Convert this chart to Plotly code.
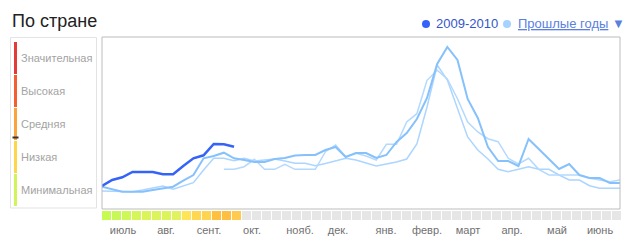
import plotly.graph_objects as go

# ---------------- data ----------------
weeks = list(range(52))
season_2009_2010 = [23, 29, 31.7, 37, 37, 37, 34.7, 34.7, 43, 50.7, 53.7, 65, 64.7, 62.3]
past_a = [22.3, 20, 17.3, 17.3, 17.3, 19, 20.3, 22.3, 28.3, 34, 50.7, 53, 56.3, 50.7,
          49, 47, 47, 50, 51, 53.5, 54, 54, 59, 62, 52, 56, 56, 51, 54, 67,
          76, 90, 111, 145, 162, 149, 110, 91, 62, 48, 48, 43, 70, 60, 51, 40,
          45, 34, 31, 31, 26, 26]
past_b = [18, 18, 17.7, 17.3, 19, 21, 23, 19.7, 23, 26.3, 39, 50.7, 50.7, 48.3,
          50.7, 48, 49, 50, 48, 45.7, 45.7, 43.3, 45.5, 48, 50.7, 49, 46, 43, 45, 47,
          50, 65, 102, 144, 129, 101, 72, 59, 50, 39.7, 37.3, 39.7, 42.3, 39.7, 39.7, 34,
          29, 29, 23.3, 20.7, 20.7, 20.7]
past_c = [None] * 12 + [39.7, 39.7, 42.3, 49.7, 39.7, 39.7, 44.7, 39.7, 39.7, 39.7,
          57.3, 64, 52.3, 55.7, 53, 49, 64.7, 64.7, 87, 95.3, 128.7, 138.7, 130, 110.3,
          87, 77, 70.3, 67.3, 50.7, 45, 50.7, 39.7, 34, 34, 34, 34, 30.7, 29, 27.3, 29]
week_levels_colors = ["#c6fb52", "#c8f858", "#cef758", "#d6f55a", "#daf45a", "#dcf45c",
                      "#dcf45c", "#e0f260", "#ffe45a", "#ffd852", "#ffd450", "#ffc040",
                      "#ffbf42", "#ffca50"] + ["#e6e6e6"] * 38
month_labels = ["июль", "авг.", "сент.", "окт.", "нояб.", "дек.", "янв.", "февр.",
                "март", "апр.", "май", "июнь"]
month_pos = [2.1, 6.4, 10.7, 15.0, 19.8, 23.6, 28.4, 32.5, 36.6, 41.0, 45.5, 49.8]
level_labels = ["Значительная", "Высокая", "Средняя", "Низкая", "Минимальная"]
level_colors = ["#e63a3a", "#f45e30", "#fba33c", "#fdd64c", "#cff55a"]

W, H = 641, 245
def px(x):
    return x / W
def py(y):
    return 1 - y / H

FONT = "Liberation Sans, Arial, sans-serif"

fig = go.Figure()

fig.add_trace(go.Scatter(x=weeks, y=past_b, mode="lines",
                         line=dict(color="#acd5ff", width=1.5), hoverinfo="skip"))
fig.add_trace(go.Scatter(x=weeks, y=past_c, mode="lines",
                         line=dict(color="#b4d9ff", width=1.5), hoverinfo="skip"))
fig.add_trace(go.Scatter(x=weeks, y=past_a, mode="lines",
                         line=dict(color="#86c1fc", width=2), hoverinfo="skip"))
fig.add_trace(go.Scatter(x=weeks[:len(season_2009_2010)], y=season_2009_2010, mode="lines",
                         line=dict(color="#3563fa", width=2.5), hoverinfo="skip"))

fig.add_trace(go.Bar(x=weeks, y=[1] * 52, width=0.9, offset=0,
                     marker=dict(color=week_levels_colors, line=dict(width=0)),
                     xaxis="x2", yaxis="y2", hoverinfo="skip"))

shapes = []
# plot box
shapes.append(dict(type="rect", xref="paper", yref="paper",
                   x0=px(102), x1=px(620), y0=py(209), y1=py(37),
                   line=dict(color="#bcbcbc", width=1), fillcolor="rgba(0,0,0,0)", layer="above"))
# legend box
shapes.append(dict(type="rect", xref="paper", yref="paper",
                   x0=px(10.5), x1=px(96.5), y0=py(208), y1=py(37.5),
                   line=dict(color="#e3e3e3", width=1), fillcolor="rgba(0,0,0,0)"))
annotations = []
seg_top = 42
seg_h = 33
for k, (lab, col) in enumerate(zip(level_labels, level_colors)):
    y0 = seg_top + k * seg_h
    shapes.append(dict(type="rect", xref="paper", yref="paper",
                       x0=px(14), x1=px(17), y0=py(y0 + seg_h - 1), y1=py(y0),
                       line=dict(width=0), fillcolor=col))
    annotations.append(dict(x=px(19), y=py(y0 + 15.5), xref="paper", yref="paper",
                            text=lab, showarrow=False, xanchor="left", yanchor="middle",
                            font=dict(family=FONT, size=11, color="#a3a3a3")))
# current level marker
shapes.append(dict(type="rect", xref="paper", yref="paper",
                   x0=px(12.5), x1=px(18.5), y0=py(138.5), y1=py(136.5),
                   line=dict(width=0), fillcolor="#333333"))
# legend dots
shapes.append(dict(type="circle", xref="paper", yref="paper",
                   x0=px(422), x1=px(430), y0=py(28), y1=py(20),
                   line=dict(width=0), fillcolor="#3563fa"))
shapes.append(dict(type="circle", xref="paper", yref="paper",
                   x0=px(503), x1=px(511), y0=py(28), y1=py(20),
                   line=dict(width=0), fillcolor="#a6d2ff"))

annotations.append(dict(x=px(10), y=py(21), xref="paper", yref="paper",
                        text="По стране", showarrow=False, xanchor="left", yanchor="middle",
                        font=dict(family=FONT, size=18, color="#222222")))
annotations.append(dict(x=px(434), y=py(24), xref="paper", yref="paper",
                        text="2009-2010", showarrow=False, xanchor="left", yanchor="middle",
                        font=dict(family=FONT, size=13, color="#3355cc")))
annotations.append(dict(x=px(516), y=py(24), xref="paper", yref="paper",
                        text="<u>Прошлые годы</u> ▼", showarrow=False, xanchor="left", yanchor="middle",
                        font=dict(family=FONT, size=13, color="#5a7fdf")))

fig.update_layout(
    width=W, height=H, margin=dict(l=0, r=0, t=0, b=0),
    paper_bgcolor="white", plot_bgcolor="white", showlegend=False,
    font=dict(family=FONT),
    xaxis=dict(domain=[px(102), px(620)], range=[0, 51], visible=False, fixedrange=True),
    yaxis=dict(domain=[py(209), py(37)], range=[0, 172], visible=False, fixedrange=True),
    xaxis2=dict(domain=[px(102), px(622)], range=[0, 52], anchor="y2",
                showgrid=False, zeroline=False, showline=False, ticks="",
                tickvals=month_pos, ticktext=month_labels, ticklabelstandoff=2,
                tickfont=dict(family=FONT, size=11, color="#707070")),
    yaxis2=dict(domain=[py(220), py(211)], range=[0, 1], visible=False, fixedrange=True),
    bargap=0,
    shapes=shapes, annotations=annotations,
)

fig.write_html("out.html")
